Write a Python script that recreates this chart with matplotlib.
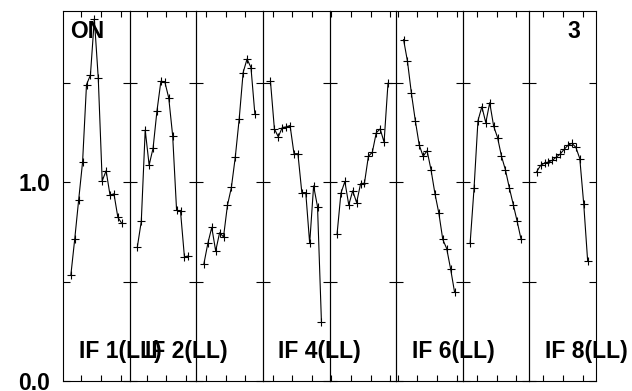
import matplotlib
matplotlib.use("Agg")
import matplotlib.pyplot as plt
import numpy as np

plt.rcParams['font.family'] = ['Liberation Sans', 'DejaVu Sans']

# amplitude per channel, one list per IF panel
amp_if1 = [0.532, 0.715, 0.912, 1.103, 1.493, 1.541, 1.824, 1.525, 1.008, 1.059, 0.936, 0.943, 0.824, 0.794]
amp_if2 = [0.676, 0.804, 1.264, 1.088, 1.172, 1.361, 1.510, 1.507, 1.426, 1.236, 0.860, 0.855, 0.625, 0.630]
amp_if3 = [0.591, 0.693, 0.774, 0.655, 0.747, 0.726, 0.885, 0.975, 1.128, 1.321, 1.554, 1.622, 1.579, 1.343]
amp_if4 = [1.510, 1.270, 1.230, 1.277, 1.280, 1.287, 1.145, 1.145, 0.949, 0.949, 0.693, 0.983, 0.878, 0.296]
amp_if5 = [0.738, 0.946, 1.005, 0.887, 0.958, 0.899, 0.993, 0.997, 1.132, 1.152, 1.250, 1.270, 1.203, 1.500]
amp_if6 = [1.720, 1.610, 1.449, 1.311, 1.188, 1.132, 1.160, 1.064, 0.944, 0.845, 0.713, 0.667, 0.564, 0.448]
amp_if7 = [0.693, 0.970, 1.311, 1.382, 1.301, 1.402, 1.284, 1.226, 1.132, 1.064, 0.973, 0.889, 0.804, 0.713]
amp_if8 = [1.054, 1.086, 1.098, 1.103, 1.112, 1.128, 1.143, 1.167, 1.188, 1.197, 1.177, 1.120, 0.892, 0.605]
panels = [amp_if1, amp_if2, amp_if3, amp_if4, amp_if5, amp_if6, amp_if7, amp_if8]

if_labels = ["IF 1(LL)", "IF 2(LL)", "", "IF 4(LL)", "", "IF 6(LL)", "", "IF 8(LL)"]
ytick_vals = [0.0, 0.5, 1.0, 1.5]
ytick_text = ["0.0", "", "1.0", ""]

# where the first x tick falls in each panel (channel units, step 5)
tick_start = [2.68, 2.35, 0.51, 0.56, -1.45, -1.48, 1.76, 1.74]

fig, axes = plt.subplots(1, 8, figsize=(6.32, 3.91), dpi=100, sharey=True)
fig.subplots_adjust(left=0.1002, right=0.9426, bottom=0.0256, top=0.9719, wspace=0)

for i, ax in enumerate(axes):
    vals = panels[i]
    chan = np.arange(len(vals))
    ax.set_facecolor('none')  # so labels spilling into the next panel stay visible
    ax.plot(chan, vals, color='black', lw=0.8, marker='+', ms=6, mew=0.8)
    ax.set_xlim(-1.91, 15.06)
    ax.set_ylim(0, 1.864)
    ax.set_xticks(np.arange(tick_start[i], 15.06, 5.0))
    ax.set_xticklabels([])
    ax.set_yticks(ytick_vals)
    ax.tick_params(axis='x', direction='in', length=4.3, width=0.8, top=True, bottom=True)
    ax.tick_params(axis='y', direction='in', length=4.7, width=0.8, left=True, right=True)
    for sp in ax.spines.values():
        sp.set_linewidth(0.8)

# panel labels go on the figure so the neighbouring axes don't cover them
for i, ax in enumerate(axes):
    if if_labels[i]:
        ax.text(15.5 / 66.55, 0.061, if_labels[i], transform=ax.transAxes,
                fontsize=16.5, fontweight='bold', ha='left', va='baseline',
                clip_on=False, zorder=10)
        ax.set_zorder(0)

axes[0].set_yticklabels(ytick_text, fontsize=16.5, fontweight='bold')
axes[0].tick_params(axis='y', pad=9.5)

axes[0].text(6.7 / 66.55, 0.927, "ON", transform=axes[0].transAxes,
             fontsize=16.5, fontweight='bold', ha='left', va='baseline')
axes[7].text(1 - 15.7 / 66.55, 0.927, "3", transform=axes[7].transAxes,
             fontsize=16.5, fontweight='bold', ha='right', va='baseline')

fig.savefig('out.png', dpi=100)
